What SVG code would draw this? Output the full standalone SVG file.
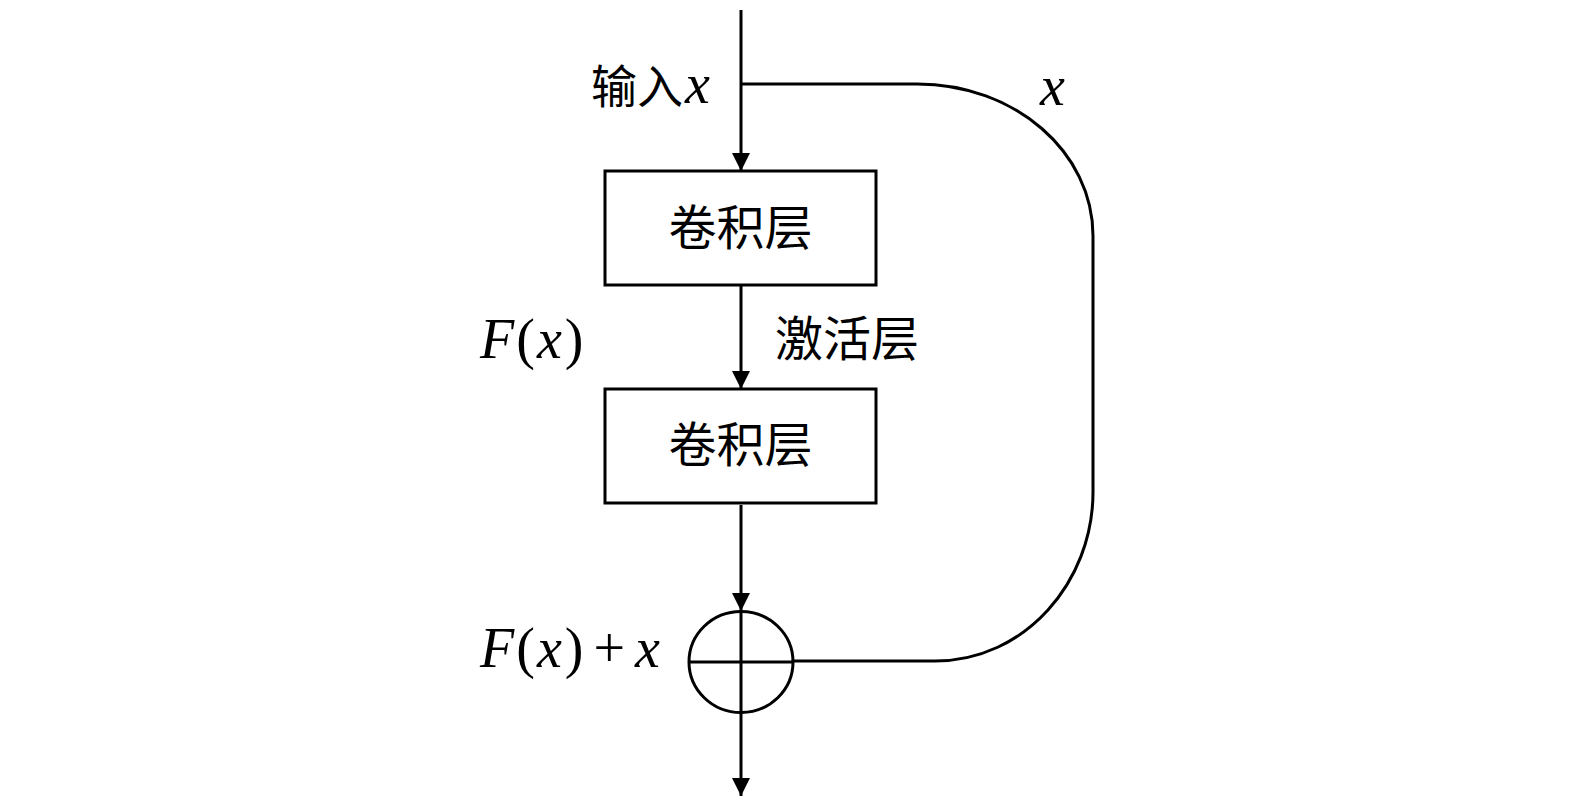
<svg xmlns="http://www.w3.org/2000/svg" width="1575" height="807" viewBox="0 0 1575 807">
<style>
.ln{fill:none;stroke:#000;stroke-width:3}
.box{fill:#fff;stroke:#000;stroke-width:3}
.cjk{font-family:"Noto Sans CJK SC","Noto Sans CJK JP",sans-serif;font-size:48px;fill:#000}
.m{font-family:"Liberation Serif","DejaVu Serif",serif;font-style:italic;font-size:56px;fill:#000}
.r{font-family:"Liberation Serif","DejaVu Serif",serif;font-size:56px;fill:#000}
</style>
<defs>
<marker id="ah" markerWidth="20" markerHeight="20" refX="18" refY="9" orient="auto" markerUnits="userSpaceOnUse">
<path d="M0,0 L18,9 L0,18 Z" fill="#000"/>
</marker>
</defs>
<rect width="1575" height="807" fill="#fff"/>
<g id="connectors">
<path class="ln" d="M741,10 L741,171" marker-end="url(#ah)"/>
<path class="ln" d="M741,84 L917,84 C1015,84 1093,152 1093,236 L1093,492 C1093,582 1025,661 935,661 L793,661"/>
<path class="ln" d="M741,285 L741,389" marker-end="url(#ah)"/>
<path class="ln" d="M741,505 L741,611" marker-end="url(#ah)"/>
<path class="ln" d="M741,713 L741,796" marker-end="url(#ah)"/>
</g>
<g id="conv1">
<rect class="box" x="605" y="171" width="271" height="114"/>
<text class="cjk" x="740.5" y="245" text-anchor="middle">卷积层</text>
</g>
<g id="conv2">
<rect class="box" x="605" y="389" width="271" height="114"/>
<text class="cjk" x="740.5" y="462" text-anchor="middle">卷积层</text>
</g>
<g id="sum">
<ellipse class="ln" cx="741" cy="662" rx="52" ry="50.5"/>
<path class="ln" d="M689,662 L793,662 M741,611.5 L741,712.5"/>
</g>
<g id="labels">
<text x="591" y="103"><tspan class="cjk" style="font-size:46px">输入</tspan><tspan class="m" dx="2">x</tspan></text>
<text class="m" x="1040" y="105">x</text>
<text x="480" y="358"><tspan class="m">F</tspan><tspan class="r" dx="2">(</tspan><tspan class="m" dx="2">x</tspan><tspan class="r" dx="3">)</tspan></text>
<text class="cjk" x="775" y="356">激活层</text>
<text x="480" y="667"><tspan class="m">F</tspan><tspan class="r" dx="2">(</tspan><tspan class="m" dx="2">x</tspan><tspan class="r" dx="3">)</tspan><tspan class="r" dx="10">+</tspan><tspan class="m" dx="10">x</tspan></text>
</g>
</svg>
